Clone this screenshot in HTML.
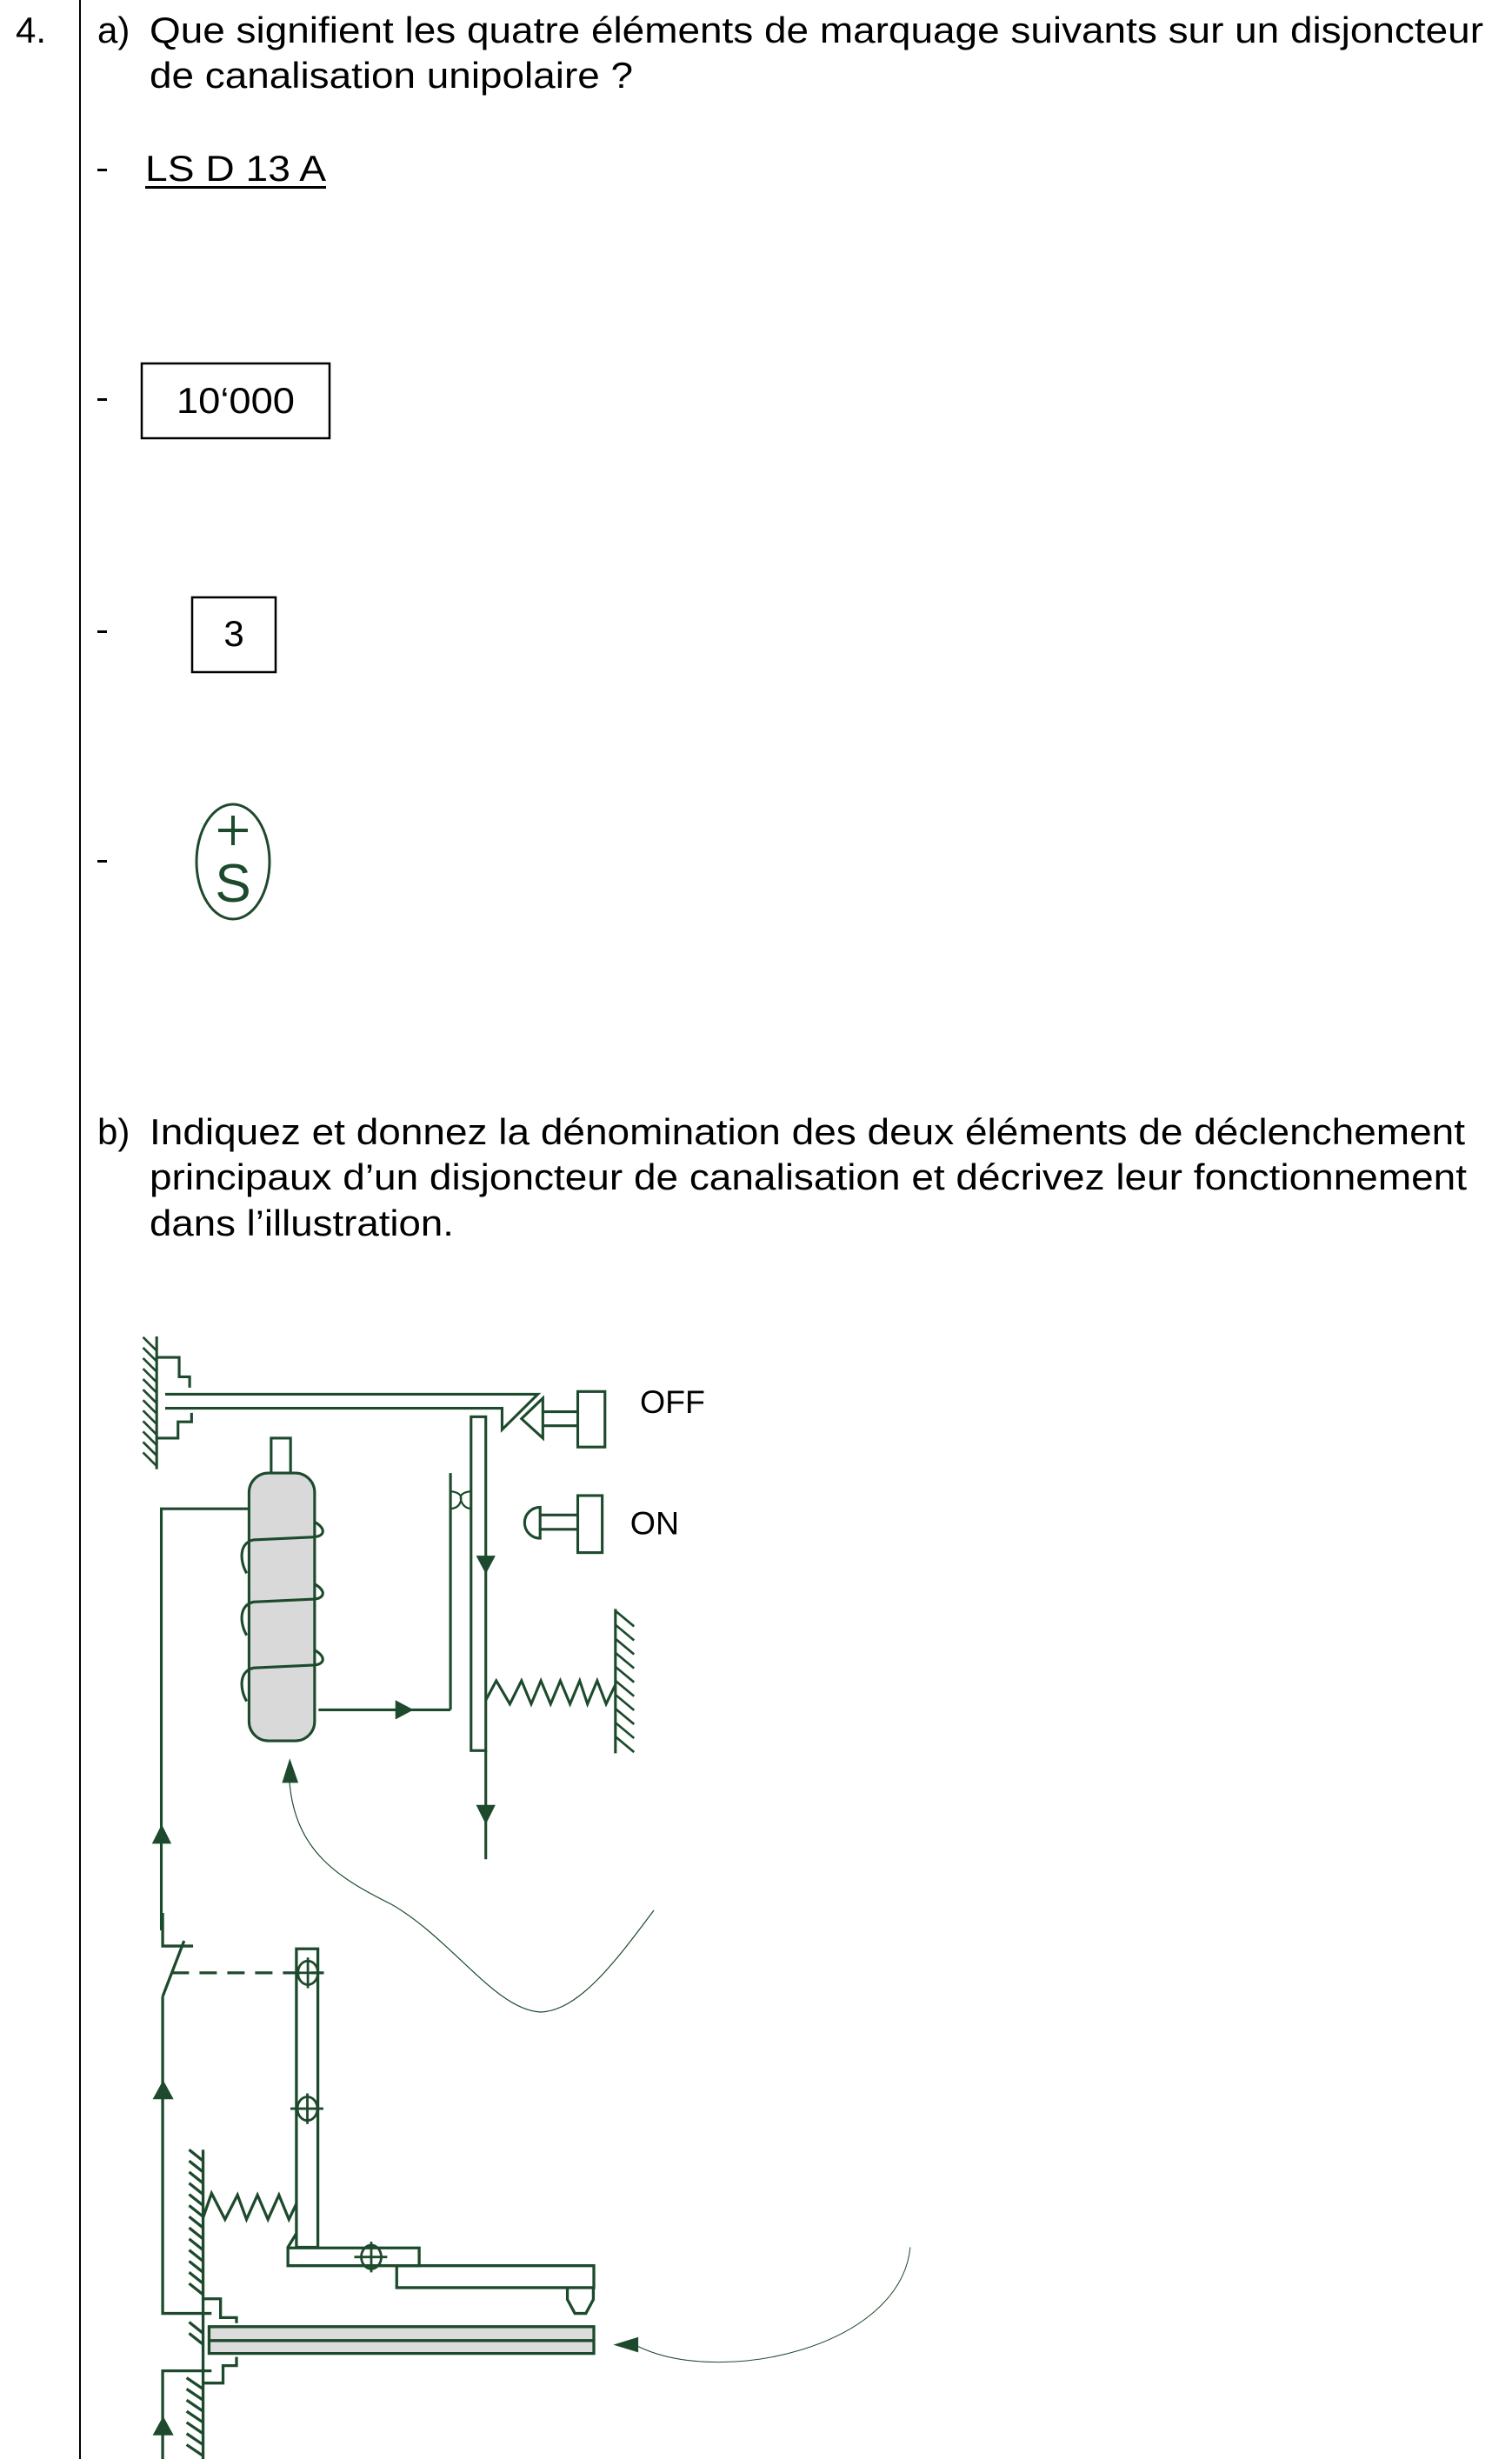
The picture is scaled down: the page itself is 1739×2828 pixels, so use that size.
<!DOCTYPE html>
<html><head><meta charset="utf-8"><style>
html,body{margin:0;padding:0;background:#fff;}
svg{display:block;}
text{font-family:"Liberation Sans",sans-serif;}
.ns *{vector-effect:non-scaling-stroke;}
</style></head><body>
<svg width="1739" height="2828" viewBox="0 0 1739 2828">
<rect width="1739" height="2828" fill="#fff"/>
<line x1="92" y1="0" x2="92" y2="2828" stroke="#000" stroke-width="2"/>
<g font-size="42" fill="#000">
<text x="18" y="49">4.</text>
<text x="112" y="49">a)</text>
<text x="172" y="49" textLength="1534" lengthAdjust="spacingAndGlyphs">Que signifient les quatre éléments de marquage suivants sur un disjoncteur</text>
<text x="172" y="101" textLength="556" lengthAdjust="spacingAndGlyphs">de canalisation unipolaire ?</text>
<rect x="112" y="194" width="11" height="3"/>
<text x="167" y="208" textLength="208" lengthAdjust="spacingAndGlyphs">LS D 13 A</text>
<rect x="167" y="214" width="208" height="3"/>
<rect x="112" y="458" width="11" height="3"/>
<rect x="163" y="418" width="216" height="86" fill="none" stroke="#000" stroke-width="2.5"/>
<text x="271" y="475" text-anchor="middle" textLength="136" lengthAdjust="spacingAndGlyphs">10‘000</text>
<rect x="112" y="725" width="11" height="3"/>
<rect x="221" y="687" width="96" height="86" fill="none" stroke="#000" stroke-width="2.5"/>
<text x="269" y="743" text-anchor="middle">3</text>
<rect x="112" y="989" width="11" height="3"/>
<text x="112" y="1316">b)</text>
<text x="172" y="1316" textLength="1513" lengthAdjust="spacingAndGlyphs">Indiquez et donnez la dénomination des deux éléments de déclenchement</text>
<text x="172" y="1368" textLength="1515" lengthAdjust="spacingAndGlyphs">principaux d’un disjoncteur de canalisation et décrivez leur fonctionnement</text>
<text x="172" y="1421" textLength="350" lengthAdjust="spacingAndGlyphs">dans l’illustration.</text>
</g>
<g stroke="#1d4a2c" fill="none">
<ellipse cx="268" cy="991" rx="42" ry="66" stroke-width="3"/>
<line x1="268" y1="938" x2="268" y2="972" stroke-width="4"/>
<line x1="251" y1="955" x2="285" y2="955" stroke-width="4"/>
<text x="268" y="1037" text-anchor="middle" font-size="62" fill="#1d4a2c" stroke="none">S</text>
</g>

<g transform="translate(140,1520) scale(0.4464)" stroke="#1d4a2c" stroke-width="7" fill="none">
<line x1="90" y1="38" x2="90" y2="380"/>
<path d="M55,40L90,75M55,67L90,102M55,94L90,129M55,121L90,156M55,148L90,183M55,175L90,210M55,202L90,237M55,229L90,264M55,256L90,291M55,283L90,318M55,310L90,345M55,337L90,372" stroke-width="6"/>
<path d="M90,92H148V142H175V170"/>
<path d="M90,300H145V258H180V235"/>
<path d="M112,187H1072L980,278V223H112"/>
<path d="M1085,197L1030,250L1085,300Z"/>
<path d="M1085,232H1175M1085,268H1175"/>
<rect x="1175" y="180" width="70" height="143"/>
<text x="1335" y="235" font-size="84" fill="#000" stroke="none">OFF</text>
<rect x="900" y="245" width="38" height="860"/>
<line x1="938" y1="1105" x2="938" y2="1385"/>
<path d="M913,603H963L938,650Z M913,1245H963L938,1295Z" fill="#1d4a2c" stroke="none"/>
<line x1="847" y1="390" x2="847" y2="1000"/>
<path d="M847,437Q878,440 874,460Q870,480 847,482M900,437Q868,440 874,460Q880,480 900,482" stroke-width="5"/>
<line x1="507" y1="1000" x2="847" y2="1000"/>
<path d="M705,975L752,1000L705,1025Z" fill="#1d4a2c" stroke="none"/>
<rect x="385" y="300" width="50" height="90"/>
<rect x="328" y="390" width="169" height="690" rx="50" fill="#d9d9d9"/>
<path d="M495,515C528,532 525,555 490,555L340,562C300,570 305,620 322,648"/>
<path d="M495,675C528,692 525,715 490,715L340,722C300,730 305,780 322,808"/>
<path d="M495,845C528,862 525,885 490,885L340,892C300,900 305,950 322,978"/>
<path d="M328,482H102V1568"/>
<path d="M78,1345H128L103,1295Z" fill="#1d4a2c" stroke="none"/>
<polyline points="938,975 965,925 1000,985 1030,925 1055,985 1080,925 1105,985 1130,925 1155,985 1180,925 1200,985 1225,925 1248,985 1272,935"/>
<line x1="1272" y1="740" x2="1272" y2="1112"/>
<path d="M1272,745L1320,785M1272,781L1320,821M1272,817L1320,857M1272,853L1320,893M1272,889L1320,929M1272,925L1320,965M1272,961L1320,1001M1272,997L1320,1037M1272,1033L1320,1073M1272,1069L1320,1109" stroke-width="6"/>
<rect x="1175" y="448" width="63" height="147"/>
<path d="M1078,498H1175M1078,535H1175"/>
<path d="M1078,478A40,40 0 0 0 1078,558Z"/>
<text x="1310" y="548" font-size="84" fill="#000" stroke="none">ON</text>
<path d="M413,1188H455L433,1125Z" fill="#1d4a2c" stroke="none"/>
</g>

<g class="ns" transform="translate(140,2200) scale(0.574,0.4005)" stroke="#1d4a2c" stroke-width="3.3" fill="none">
<path d="M82,0V95H143"/>
<line x1="125" y1="80" x2="82" y2="240"/>
<path d="M82,240V1150H180"/>
<path d="M62,535H104L83,480Z" fill="#1d4a2c" stroke="none"/>
<line x1="100" y1="172" x2="405" y2="172" stroke-dasharray="20,12"/>
<rect x="350" y="103" width="43" height="857"/>
<g stroke-width="2.8">
<ellipse cx="373" cy="172" rx="20" ry="34"/><path d="M373,128V216M340,172H405"/>
<ellipse cx="372" cy="562" rx="20" ry="34"/><path d="M372,518V606M338,562H404"/>
<ellipse cx="500" cy="988" rx="20" ry="34"/><path d="M500,944V1032M466,988H532"/>
</g>
<line x1="163" y1="680" x2="163" y2="1568"/>
<path d="M135,680L163,712M135,712L163,744M135,744L163,776M135,776L163,808M135,808L163,840M135,840L163,872M135,872L163,904M135,904L163,936M135,936L163,968M135,968L163,1000M135,1000L163,1032M135,1032L163,1064M135,1064L163,1096M135,1175L163,1207M135,1207L163,1239M130,1335L163,1367M130,1367L163,1399M130,1399L163,1431M130,1431L163,1463M130,1463L163,1495M130,1495L163,1527M130,1527L163,1559"/>
<polyline points="163,875 180,805 207,880 232,810 250,880 272,810 293,880 315,810 335,880 350,835"/>
<line x1="350" y1="920" x2="333" y2="960"/>
<rect x="333" y="962" width="263" height="51"/>
<rect x="551" y="1013" width="395" height="63"/>
<path d="M893,1076V1110L908,1150H930L945,1110V1076"/>
<rect x="175" y="1188" width="771" height="77" fill="#dcdcdc"/>
<line x1="175" y1="1228" x2="946" y2="1228"/>
<path d="M163,1108H198V1162H230V1178"/>
<path d="M163,1350H203V1300H230V1275"/>
<path d="M82,1568V1315H180"/>
<path d="M62,1500H104L83,1445Z" fill="#1d4a2c" stroke="none"/>
<path d="M985,1240L1035,1218V1262Z" fill="#1d4a2c" stroke="none"/>
<path d="M1035,1245C1200,1360 1560,1250 1580,960" stroke-width="1"/>
</g>
<path d="M333,2050C340,2130 390,2160 450,2190C520,2230 570,2312 622,2314C665,2312 705,2260 752,2197" fill="none" stroke="#1d4a2c" stroke-width="1.2"/>
</svg>
</body></html>
